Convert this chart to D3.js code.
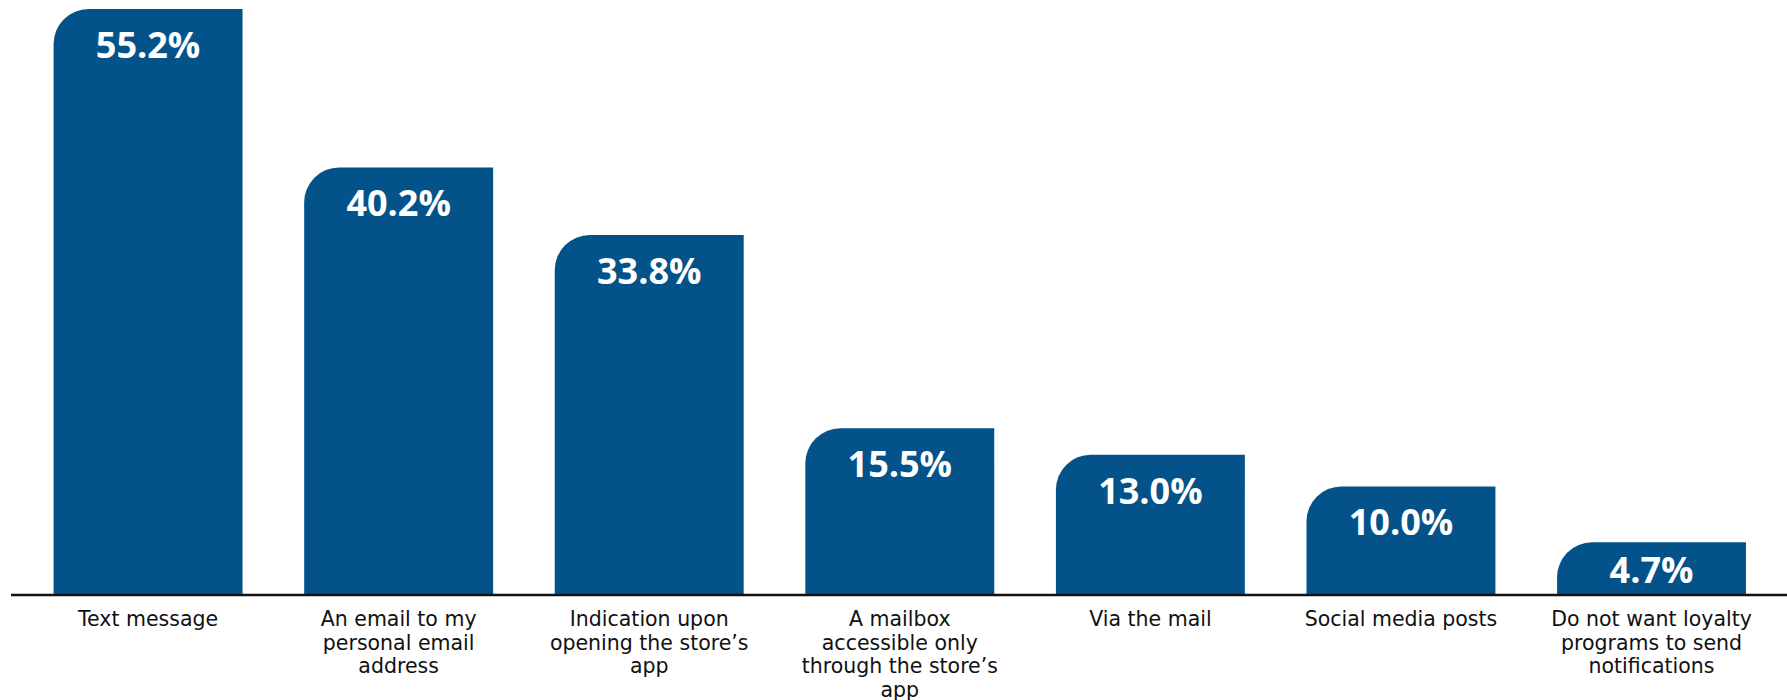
<!DOCTYPE html>
<html>
<head>
<meta charset="utf-8">
<script src="https://cdn.jsdelivr.net/npm/d3@7"></script>
<style>
  body { margin: 0; background: #fff; }
  svg { display: block; }
</style>
</head>
<body>
<div id="container"></div>
<script>
/* DATA */
const categories = ["text", "email", "app", "mailbox", "mail", "social", "none"];
const values = [55.2, 40.2, 33.8, 15.5, 13.0, 10.0, 4.7];
const tickLabels = [
  ["Text message"],
  ["An email to my", "personal email", "address"],
  ["Indication upon", "opening the store\u2019s", "app"],
  ["A mailbox", "accessible only", "through the store\u2019s", "app"],
  ["Via the mail"],
  ["Social media posts"],
  ["Do not want loyalty", "programs to send", "notifications"]
];

/* CONSTANTS */
const width = 1787;
const height = 700;
const axisY = 595;
const barColor = "#03538a";
const radius = 35;

const data = categories.map((c, i) => ({ key: c, value: values[i], lines: tickLabels[i] }));

/* SCALES */
const xScale = d3.scaleBand()
  .domain(categories)
  .range([53.6, 1746])
  .paddingInner(0.246)
  .paddingOuter(0);

const yScale = d3.scaleLinear()
  .domain([0, 55.2])
  .range([592, 9]);

const svg = d3.select("#container")
  .append("svg")
  .attr("width", width)
  .attr("height", height);

// bars with a rounded top-left corner
const barPath = d => {
  const x = xScale(d.key), w = xScale.bandwidth();
  const top = yScale(d.value), bottom = axisY;
  const r = Math.min(radius, bottom - top);
  return `M${x},${bottom}V${top + r}A${r},${r} 0 0 1 ${x + r},${top}H${x + w}V${bottom}Z`;
};

svg.selectAll("path.bar")
  .data(data)
  .join("path")
  .attr("class", "bar")
  .attr("d", barPath)
  .attr("fill", barColor);

// value labels
svg.selectAll("text.value")
  .data(data)
  .join("text")
  .attr("class", "value")
  .attr("x", d => xScale(d.key) + xScale.bandwidth() / 2)
  .attr("y", d => Math.min(yScale(d.value) + 49, axisY - 12))
  .attr("text-anchor", "middle")
  .attr("fill", "#fff")
  .style("font-family", "'Open Sans', sans-serif")
  .style("font-weight", 700)
  .style("font-size", "36px")
  .text(d => d3.format(".1f")(d.value) + "%");

// baseline
svg.append("line")
  .attr("x1", 11)
  .attr("x2", width)
  .attr("y1", axisY)
  .attr("y2", axisY)
  .attr("stroke", "#111")
  .attr("stroke-width", 2.5);

// category labels
const labels = svg.selectAll("text.cat")
  .data(data)
  .join("text")
  .attr("class", "cat")
  .attr("text-anchor", "middle")
  .attr("fill", "#111")
  .style("font-family", "'DejaVu Sans', sans-serif")
  .style("font-size", "20.5px");

labels.selectAll("tspan")
  .data(d => d.lines.map(l => ({ l, x: xScale(d.key) + xScale.bandwidth() / 2 })))
  .join("tspan")
  .attr("x", t => t.x)
  .attr("y", (t, i) => axisY + 31 + i * 23.5)
  .text(t => t.l);
</script>
</body>
</html>
